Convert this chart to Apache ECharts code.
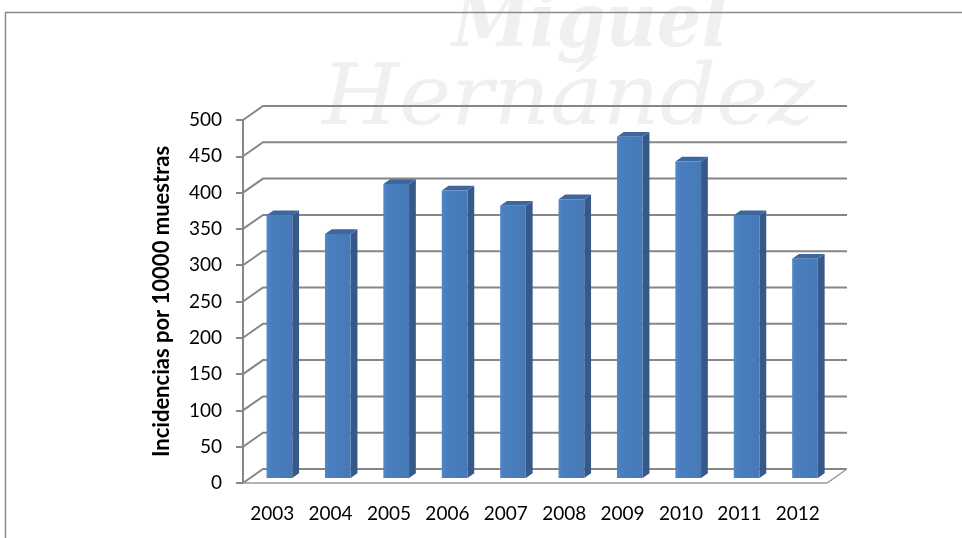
<!DOCTYPE html>
<html>
<head>
<meta charset="utf-8">
<script src="https://cdn.jsdelivr.net/npm/echarts@6/dist/echarts.min.js"></script>
<style>
  html, body { margin: 0; padding: 0; background: #ffffff; }
  #chart { width: 962px; height: 538px; }
</style>
</head>
<body>
<div id="chart"></div>
<script>
// Incidencias anuales por cada 10000 muestras
const years = ['2003', '2004', '2005', '2006', '2007', '2008', '2009', '2010', '2011', '2012'];
const incidencias = [362, 336, 405, 396, 375, 384, 470, 436, 362, 302];
const yTicks = [0, 50, 100, 150, 200, 250, 300, 350, 400, 450, 500];
const yAxisName = 'Incidencias por 10000 muestras';

// 3D look: depth of the plot box and of each bar (screen offsets)
const DEPTH_X = 20, DEPTH_Y = -14;
const BAR_POS = 0.36;   // bar front face position inside the depth
const BAR_DEPTH = 0.34; // bar thickness as a share of the depth
const GRID_COLOR = '#868686';
const FONT = 'Lato, "Open Sans", sans-serif';

const chart = echarts.init(document.getElementById('chart'), null, { renderer: 'canvas' });

// Back wall gridlines, side wall connectors and floor
function renderWalls(params, api) {
  const v = api.value(0);
  const cs = params.coordSys;
  const fy = api.coord([0, v])[1];
  const x0 = cs.x, x1 = cs.x + cs.width;
  const children = [{
    type: 'polyline',
    shape: { points: [[x0, fy], [x0 + DEPTH_X, fy + DEPTH_Y], [x1 + DEPTH_X, fy + DEPTH_Y]] },
    style: { stroke: GRID_COLOR, lineWidth: 2, fill: null }
  }];
  if (v === 0) {
    children.push({
      type: 'polyline',
      shape: { points: [[x0, fy], [x1, fy], [x1 + DEPTH_X, fy + DEPTH_Y]] },
      style: { stroke: '#9a9a9a', lineWidth: 1.5, fill: null }
    });
  }
  return { type: 'group', children: children };
}

// Prism-like bar: front face, right side and top cap
function renderBar(params, api) {
  const idx = api.value(0);
  const val = api.value(1);
  const band = api.size([1, 0])[0];
  const top = api.coord([idx, val]);
  const base = api.coord([idx, 0]);
  const w = band * 0.44;
  const ox = DEPTH_X * BAR_POS, oy = DEPTH_Y * BAR_POS;
  const dx = DEPTH_X * BAR_DEPTH, dy = DEPTH_Y * BAR_DEPTH;
  const xl = top[0] - w / 2 + ox, xr = xl + w;
  const yt = top[1] + oy, yb = base[1] + oy;
  return {
    type: 'group',
    children: [
      {
        type: 'polygon',
        shape: { points: [[xr, yt], [xr + dx, yt + dy], [xr + dx, yb + dy], [xr, yb]] },
        style: { fill: '#37598a' }
      },
      {
        type: 'polygon',
        shape: { points: [[xl, yt], [xl + dx, yt + dy], [xr + dx, yt + dy], [xr, yt]] },
        style: { fill: '#3e679e' }
      },
      {
        type: 'rect',
        shape: { x: xl, y: yt, width: w, height: yb - yt },
        style: {
          fill: new echarts.graphic.LinearGradient(0, 0, 1, 0, [
            { offset: 0, color: '#5289c9' },
            { offset: 0.15, color: '#4a7ebf' },
            { offset: 1, color: '#4779b8' }
          ])
        }
      }
    ]
  };
}

chart.setOption({
  backgroundColor: '#ffffff',
  animation: false,
  graphic: [
    {
      type: 'text', left: 452, top: -10, z: -10, silent: true, scaleX: 0.95,
      style: { text: 'Miguel', font: 'italic bold 74px "DejaVu Serif", serif', fill: '#f0f0f0' }
    },
    {
      type: 'text', left: 322, top: 60, z: -10, silent: true, scaleX: 1.05,
      style: { text: 'Hernández', font: 'italic 84px "DejaVu Serif", serif', fill: '#f0f0f0' }
    },
    {
      type: 'rect', z: 100, silent: true,
      shape: { x: 5.5, y: 12.5, width: 1000, height: 600 },
      style: { fill: null, stroke: '#8a8a8a', lineWidth: 1.5 }
    }
  ],
  grid: { left: 243, top: 120, width: 584, height: 363, containLabel: false },
  xAxis: {
    type: 'category',
    data: years,
    axisLine: { show: false },
    axisTick: { show: false },
    axisLabel: { margin: 21, color: '#000000', fontFamily: FONT, fontSize: 19 }
  },
  yAxis: {
    type: 'value',
    min: 0, max: 500, interval: 50,
    name: yAxisName,
    nameLocation: 'middle',
    nameRotate: 90,
    nameGap: 70,
    nameTextStyle: { color: '#000000', fontFamily: FONT, fontSize: 22, fontWeight: 'bold' },
    axisLine: { show: true, lineStyle: { color: GRID_COLOR, width: 2 } },
    axisTick: { show: true, length: 7, lineStyle: { color: GRID_COLOR, width: 2 } },
    splitLine: { show: false },
    axisLabel: {
      margin: 21, color: '#000000', fontFamily: FONT, fontSize: 19,
      formatter: function (v) { return yTicks.indexOf(v) >= 0 ? String(v) : ''; }
    }
  },
  series: [
    {
      type: 'custom',
      renderItem: renderWalls,
      data: yTicks.map(function (v) { return [v]; }),
      encode: { y: 0 },
      silent: true,
      z: 1
    },
    {
      type: 'custom',
      renderItem: renderBar,
      data: incidencias.map(function (v, i) { return [i, v]; }),
      encode: { x: 0, y: 1 },
      z: 2
    }
  ]
});
</script>
</body>
</html>
